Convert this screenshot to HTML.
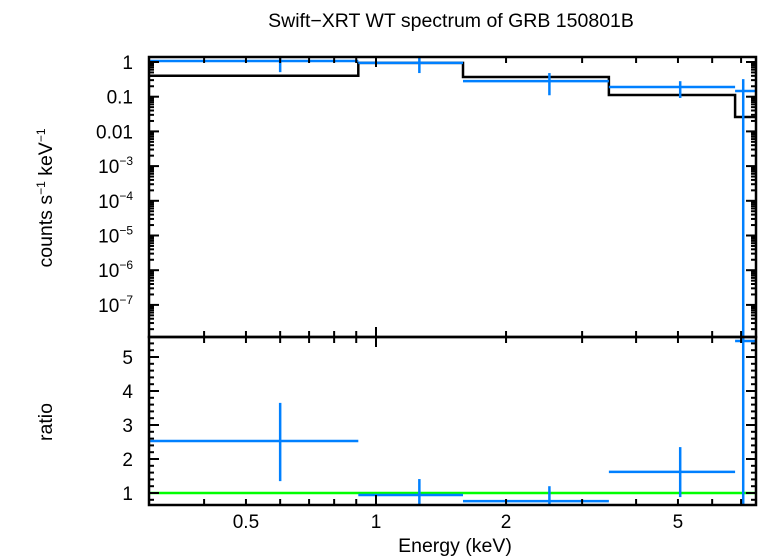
<!DOCTYPE html>
<html><head><meta charset="utf-8"><style>
body{margin:0;background:#fff;}
svg{display:block;font-family:"Liberation Sans",sans-serif;}
</style></head><body>
<svg id="chart" width="758" height="556" viewBox="0 0 758 556" xmlns="http://www.w3.org/2000/svg">
<text x="451" y="27" font-size="19.5" text-anchor="middle">Swift−XRT WT spectrum of GRB 150801B</text>
<text transform="translate(52,198) rotate(-90)" font-size="19.5" text-anchor="middle">counts s<tspan font-size="12" dy="-7">−1</tspan><tspan dy="7"> keV</tspan><tspan font-size="12" dy="-7">−1</tspan></text>
<text transform="translate(52,422) rotate(-90)" font-size="19.5" text-anchor="middle">ratio</text>
<text x="455" y="552" font-size="19.5" text-anchor="middle">Energy (keV)</text>
<g id="g"></g>
</svg>
<script>
// data
const binLo = [0.3, 0.91, 1.59, 3.46, 6.78];
const binHi = [0.91, 1.59, 3.46, 6.78, 7.58];
const binCenter = [0.6, 1.26, 2.52, 5.06, 7.08];
const rate = [1.07, 0.94, 0.28, 0.19, 0.146];
const rateHi = [1.6, 1.39, 0.48, 0.28, 0.32];
const rateLo = [0.51, 0.48, 0.11, 0.092, 1e-9];
const model = [0.40, 0.94, 0.37, 0.112, 0.026];
const ratio = [2.53, 0.94, 0.76, 1.62, 5.47];
const ratioHi = [3.65, 1.41, 1.2, 2.35, 9];
const ratioLo = [1.35, 0.5, 0.3, 0.88, -1];
const xTickLabels = ["0.5", "1", "2", "5"];
const xTickVals = [0.5, 1, 2, 5];
const yTopTickVals = [1, 0.1, 0.01, 1e-3, 1e-4, 1e-5, 1e-6, 1e-7];
const yRatioTickVals = [1, 2, 3, 4, 5];

const L=149, R=756, T=57, M=337, B=505;
const xs = e => 376 + Math.log10(e)*432;
const yt = v => 62 - Math.log10(v)*34.7;
const yr = v => 493 - (v-1)*34;
const g = document.getElementById('g');
const NS="http://www.w3.org/2000/svg";
function mk(tag, at){const el=document.createElementNS(NS,tag);for(const k in at)el.setAttribute(k,at[k]);g.appendChild(el);return el;}
const cl = (v,a,b)=>Math.max(a,Math.min(b,v));
function line(x1,y1,x2,y2,c,w,name){const el=mk('line',{x1,y1,x2,y2,stroke:c,'stroke-width':w});


return el;}

// model step (top)
let d='';
for(let i=0;i<model.length;i++){const x1=xs(binLo[i]),x2=Math.min(xs(binHi[i]),R),y=yt(model[i]);d+=(i?'L':'M')+x1+','+y+'L'+x2+','+y;}
const mp=mk('path',{d,fill:'none',stroke:'#000','stroke-width':2.5});



// data points top
for(let i=0;i<rate.length;i++){
 const y=yt(rate[i]);
 line(xs(binLo[i]),y,Math.min(xs(binHi[i]),R),y,'#0080ff',2.5,'data-bin-'+(i+1));
 line(xs(binCenter[i]),cl(yt(rateHi[i]),T,M),xs(binCenter[i]),cl(yt(rateLo[i]),T,M),'#0080ff',2.5,'data-errorbar-'+(i+1));
}
// ratio
line(L,yr(1),R,yr(1),'#00ff00',2.5,'ratio-unity-line');
for(let i=0;i<ratio.length;i++){
 const y=yr(ratio[i]);
 line(xs(binLo[i]),y,Math.min(xs(binHi[i]),R),y,'#0080ff',2.5,'ratio-bin-'+(i+1));
 line(xs(binCenter[i]),cl(yr(ratioHi[i]),M,B),xs(binCenter[i]),cl(yr(ratioLo[i]),M,B),'#0080ff',2.5,'ratio-errorbar-'+(i+1));
}

// frames
[[T,M,'top-panel-frame'],[M,B,'ratio-panel-frame']].forEach(([a,b,n])=>{
 const r=mk('rect',{x:L,y:a,width:R-L,height:b-a,fill:'none',stroke:'#000','stroke-width':2.5});
 
 
});
// x ticks
const xMinor=[0.4,0.5,0.6,0.7,0.8,0.9,1,2,3,4,5,6,7];
xMinor.forEach(v=>{const x=xs(v),len=v===1?10:6;
 [T,M,B].forEach(yy=>{
  if(yy!==T) line(x,yy,x,yy-len,'#000',2,'x-tick');
  if(yy!==B) line(x,yy,x,yy+len,'#000',2,'x-tick');
 });
});
xTickVals.forEach((v,i)=>{const t=mk('text',{x:xs(v),y:528,'font-size':19,'text-anchor':'middle'});t.textContent=xTickLabels[i];
 
 });
// top y ticks
for(let e=-8;e<=0;e++){for(let k=1;k<=9;k++){const v=k*Math.pow(10,e),y=yt(v);if(y<T||y>M)continue;const len=k===1?10:5;
 line(L,y,L+len,y,'#000',2,'y-tick');line(R,y,R-len,y,'#000',2,'y-tick');}}
yTopTickVals.forEach(v=>{const e=Math.round(Math.log10(v));const t=mk('text',{x:133,y:yt(v)+7,'font-size':19,'text-anchor':'end'});
 if(e>=-2)t.textContent=String(v);else{t.innerHTML='10<tspan font-size="12" dy="-8">−'+(-e)+'</tspan>';}
 
 });
// ratio y ticks
for(let v=0.8;v<5.6;v+=0.2){const vv=Math.round(v*10)/10,y=yr(vv),len=Math.abs(vv-Math.round(vv))<0.01?10:5;
 line(L,y,L+len,y,'#000',2,'ratio-tick');line(R,y,R-len,y,'#000',2,'ratio-tick');}
yRatioTickVals.forEach(v=>{const t=mk('text',{x:133,y:yr(v)+7,'font-size':19,'text-anchor':'end'});t.textContent=v;
 
 });
</script>
</body></html>
